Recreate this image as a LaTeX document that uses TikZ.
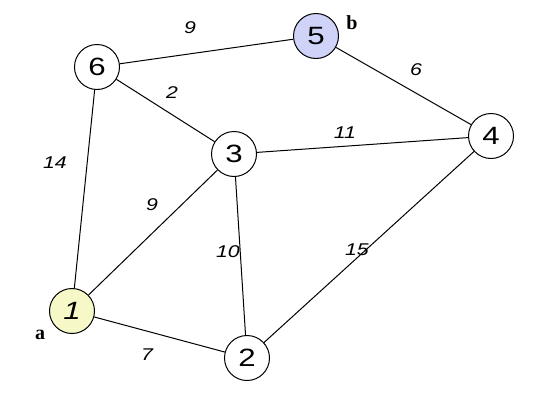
\documentclass[tikz,border=0pt]{standalone}
\usepackage{graphicx}
\usepackage{fontspec}
\setmainfont{Liberation Sans}
\newfontfamily\serifbold{Liberation Serif}
\definecolor{nodeyellow}{HTML}{F7F8C8}
\definecolor{nodeblue}{HTML}{CFD3F8}
\newcommand{\widetext}[1]{\scalebox{1.25}[1]{#1}}
\begin{document}
\begin{tikzpicture}[x=1pt,y=-1pt,
  vertex/.style={circle,draw=black,line width=1pt,fill=white,minimum size=45pt,inner sep=0pt,font=\fontsize{25}{25}\selectfont},
  edge/.style={black,line width=1pt},
  wlabel/.style={font=\fontsize{17}{17}\selectfont\itshape},
  tag/.style={font=\fontsize{20}{20}\selectfont\serifbold\bfseries}]
\useasboundingbox (0,0) rectangle (536,405);
\node[vertex] (n6) at (97,67) {\widetext{6}};
\node[vertex,fill=nodeblue] (n5) at (316,36) {\widetext{5}};
\node[vertex] (n3) at (234,154) {\widetext{3}};
\node[vertex] (n4) at (491,136) {\widetext{4}};
\node[vertex,fill=nodeyellow] (n1) at (72,311) {\widetext{\itshape 1}};
\node[vertex] (n2) at (247,358) {\widetext{2}};
\draw[edge] (n6) -- (n5);
\draw[edge] (n6) -- (n3);
\draw[edge] (n6) -- (n1);
\draw[edge] (n5) -- (n4);
\draw[edge] (n3) -- (n4);
\draw[edge] (n3) -- (n1);
\draw[edge] (n3) -- (n2);
\draw[edge] (n4) -- (n2);
\draw[edge] (n1) -- (n2);
\node[wlabel] (w65) at (190,28) {\widetext{9}};
\node[wlabel] (w63) at (172,93) {\widetext{2}};
\node[wlabel] (w61) at (55,163) {\widetext{14}};
\node[wlabel] (w54) at (416,70) {\widetext{6}};
\node[wlabel] (w34) at (345,133) {\widetext{11}};
\node[wlabel] (w31) at (152,205) {\widetext{9}};
\node[wlabel] (w32) at (228,252) {\widetext{10}};
\node[wlabel] (w42) at (357,250) {\widetext{15}};
\node[wlabel] (w12) at (147,355) {\widetext{7}};
\node[tag] (ta) at (40,335) {a};
\node[tag] (tb) at (352,23) {b};
\end{tikzpicture}
\end{document}
